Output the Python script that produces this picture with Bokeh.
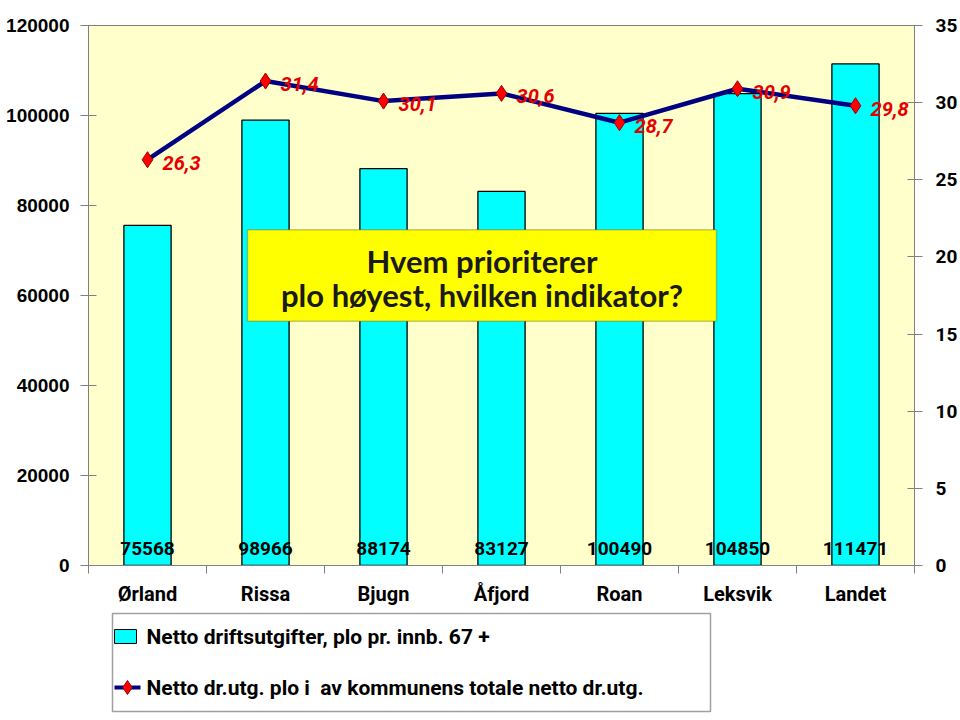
from bokeh.plotting import figure
from bokeh.models import (Range1d, LinearAxis, FixedTicker, ColumnDataSource, BoxAnnotation, Label,
                          BasicTickFormatter)
from bokeh.layouts import column
from bokeh.embed import file_html
from bokeh.resources import INLINE
from bokeh.core.properties import value

# ---------------- data ----------------
categories = ["Ørland", "Rissa", "Bjugn", "Åfjord", "Roan", "Leksvik", "Landet"]
cost = [75568, 98966, 88174, 83127, 100490, 104850, 111471]
share = [26.3, 31.4, 30.1, 30.6, 28.7, 30.9, 29.8]
left_ticks = [0, 20000, 40000, 60000, 80000, 100000, 120000]
right_ticks = [0, 5, 10, 15, 20, 25, 30, 35]
bar_name = "Netto driftsutgifter, plo pr. innb. 67 +"
line_name = "Netto dr.utg. plo i\u00a0 av kommunens totale netto dr.utg."
title_lines = ["Hvem prioriterer", "plo høyest, hvilken indikator?"]

NARROW = "Roboto"
BOLD = "Liberation Sans"

xs = [i + 0.5 for i in range(len(categories))]
src = ColumnDataSource(dict(
    x=xs, cat=categories, cost=cost, cost_lbl=[str(v) for v in cost],
    share=share, share_lbl=[("%.1f" % v).replace(".", ",") for v in share],
    zero=[0] * len(xs),
))

W = 960
p = figure(width=W, height=608, output_backend="svg", toolbar_location=None,
           x_range=Range1d(0, len(categories)), y_range=Range1d(0, 120000),
           min_border_top=25, min_border_bottom=43, min_border_left=88, min_border_right=46)
p.extra_y_ranges = {"pct": Range1d(0, 35)}
p.background_fill_color = "#FFFFCC"
p.border_fill_color = "white"
p.outline_line_color = "#808080"
p.outline_line_width = 1
p.xgrid.visible = False
p.ygrid.visible = False

# bars
p.vbar(x="x", top="cost", width=0.4, source=src, fill_color="#00FFFF", line_color="black", line_width=1.3)
# bar value labels
p.text(x="x", y="zero", text="cost_lbl", source=src, text_align="center", text_baseline="middle",
       y_offset=-17, text_font=value(NARROW), text_font_style="bold", text_font_size="19px", text_color="black")

# line
p.line(x="x", y="share", source=src, y_range_name="pct", line_color="#000080", line_width=4.5)
p.scatter(x="x", y="share", source=src, y_range_name="pct", marker="diamond", size=16,
          fill_color="#FF0000", line_color="#990000", line_width=1)
p.text(x="x", y="share", text="share_lbl", source=src, y_range_name="pct", x_offset=15, y_offset=3,
       text_align="left", text_baseline="middle", text_font=value(NARROW),
       text_font_style="bold italic", text_font_size="20px", text_color="#E60000")

# title box
box = BoxAnnotation(left=1.347, right=5.322, top=74637, bottom=54302, fill_color="#FFFF00", fill_alpha=1,
                    line_color="#404040", line_width=1.5)
p.add_layout(box)
for yy, t in zip([67709, 60112], title_lines):
    p.add_layout(Label(x=3.335, y=yy, text=t, text_align="center", text_baseline="middle",
                       text_font="Lato", text_font_style="bold", text_font_size="31px", text_color="#1a1a1a"))

# axes
xa = p.xaxis[0]
xa.ticker = FixedTicker(ticks=xs, minor_ticks=list(range(len(categories) + 1)))
xa.major_label_overrides = {x: c for x, c in zip(xs, categories)}
xa.major_tick_line_color = None
xa.major_tick_out = 0
xa.major_tick_in = 0
xa.minor_tick_out = 8
xa.minor_tick_in = 0
xa.minor_tick_line_color = "#808080"
xa.axis_line_color = "#808080"
xa.major_label_standoff = 8
xa.major_label_text_font = NARROW
xa.major_label_text_font_style = "bold"
xa.major_label_text_font_size = "20px"
xa.major_label_text_color = "black"

ya = p.yaxis[0]
ya.ticker = FixedTicker(ticks=left_ticks, minor_ticks=[])
ya.formatter = BasicTickFormatter(use_scientific=False)
ya.axis_line_color = "#808080"
ya.major_tick_line_color = "#808080"
ya.major_tick_in = 8
ya.major_tick_out = 8
ya.minor_tick_line_color = None
ya.major_label_standoff = 11
ya.major_label_text_font = BOLD
ya.major_label_text_font_style = "bold"
ya.major_label_text_font_size = "19px"
ya.major_label_text_color = "black"

ra = LinearAxis(y_range_name="pct", ticker=FixedTicker(ticks=right_ticks, minor_ticks=[]))
ra.formatter = BasicTickFormatter(use_scientific=False)
ra.axis_line_color = "#808080"
ra.major_tick_line_color = "#808080"
ra.major_tick_in = 7
ra.major_tick_out = 8
ra.minor_tick_line_color = None
ra.major_label_standoff = 13
ra.major_label_text_font = NARROW
ra.major_label_text_font_style = "bold"
ra.major_label_text_font_size = "19px"
ra.major_label_text_color = "black"
p.add_layout(ra, "right")

# ---------------- legend figure (coordinates = page pixels) ----------------
leg = figure(width=W, height=112, output_backend="svg", toolbar_location=None,
             x_range=Range1d(88, 914), y_range=Range1d(720, 608),
             min_border_left=88, min_border_right=46, min_border_top=0, min_border_bottom=0)
leg.axis.visible = False
leg.grid.visible = False
leg.outline_line_color = None
leg.background_fill_color = "white"
leg.border_fill_color = "white"
leg.quad(left=[112], right=[710], top=[613], bottom=[711], fill_color="white", line_color="#A0A0A0", line_width=1.5)
leg.quad(left=[114], right=[136], top=[629], bottom=[643], fill_color="#00FFFF", line_color="black", line_width=1)
leg.line(x=[114, 140], y=[687, 687], line_color="#000080", line_width=4)
leg.scatter(x=[127], y=[687], marker="diamond", size=14, fill_color="#FF0000", line_color="#990000")
leg.text(x=[146, 146], y=[636, 687], text=[bar_name, line_name], text_align="left", text_baseline="middle",
         text_font=value(NARROW), text_font_style="bold", text_font_size="21px", text_color="black")

layout = column(p, leg, spacing=0)
open("out.html", "w").write(file_html(layout, INLINE))
